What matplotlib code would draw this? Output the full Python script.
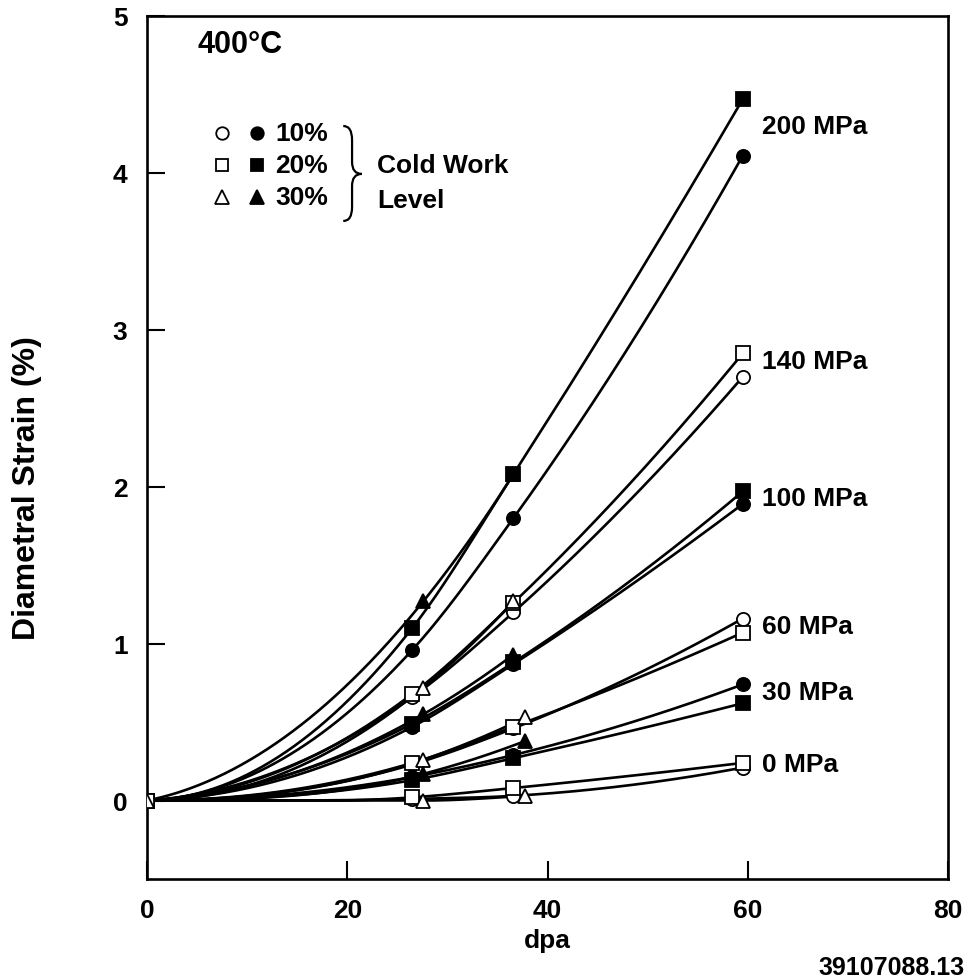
import numpy as np
import matplotlib
matplotlib.use("Agg")
import matplotlib.pyplot as plt
from matplotlib.path import Path
from matplotlib.patches import PathPatch

plt.rcParams['font.family'] = ['Liberation Sans', 'DejaVu Sans']
plt.rcParams['font.weight'] = 'bold'

# ---------------- data (dpa, diametral strain %) ----------------
x_cw10 = [0, 26.5, 36.6, 59.5]
x_cw20 = [0, 26.5, 36.6, 59.5]
x_cw30_hi = [0, 27.6, 36.6]      # 200/140/100 MPa, 30% CW
x_cw30_lo = [0, 27.6, 37.8]      # 60/30/0 MPa, 30% CW

y_200_cw10 = [0, 0.96, 1.80, 4.11]
y_200_cw20 = [0, 1.10, 2.08, 4.47]
y_200_cw30 = [0, 1.27, 2.08]

y_140_cw10 = [0, 0.66, 1.20, 2.70]
y_140_cw20 = [0, 0.68, 1.26, 2.85]
y_140_cw30 = [0, 0.72, 1.27]

y_100_cw10 = [0, 0.47, 0.87, 1.89]
y_100_cw20 = [0, 0.49, 0.88, 1.97]
y_100_cw30 = [0, 0.55, 0.93]

y_60_cw10 = [0, 0.23, 0.46, 1.16]
y_60_cw20 = [0, 0.24, 0.47, 1.07]
y_60_cw30 = [0, 0.26, 0.53]

y_30_cw10 = [0, 0.15, 0.29, 0.74]
y_30_cw20 = [0, 0.13, 0.27, 0.62]
y_30_cw30 = [0, 0.17, 0.38]

y_0_cw10 = [0, 0.01, 0.03, 0.21]
y_0_cw20 = [0, 0.02, 0.08, 0.24]
y_0_cw30 = [0, 0.00, 0.03]

stress_labels = ['200 MPa', '140 MPa', '100 MPa', '60 MPa', '30 MPa', '0 MPa']
stress_label_y = [4.30, 2.80, 1.93, 1.11, 0.69, 0.23]
cw_labels = ['10%', '20%', '30%']
xticks = [0, 20, 40, 60, 80]
yticks = [0, 1, 2, 3, 4, 5]


def smooth_curve(x, y, xs):
    """Hermite curve through the points (Bessel slopes, flat start)."""
    x = np.asarray(x, float); y = np.asarray(y, float)
    h = np.diff(x); d = np.diff(y) / h
    n = len(x)
    m = np.zeros(n)
    for k in range(1, n - 1):
        m[k] = (h[k] * d[k - 1] + h[k - 1] * d[k]) / (h[k - 1] + h[k])
        if d[k - 1] * d[k] <= 0:
            m[k] = 0.0
    if n > 2:
        s0 = ((2 * h[0] + h[1]) * d[0] - h[0] * d[1]) / (h[0] + h[1])
        m[0] = max(s0, 0.0)
        m[-1] = ((2 * h[-1] + h[-2]) * d[-1] - h[-1] * d[-2]) / (h[-1] + h[-2])
    else:
        m[:] = d[0]
    ys = np.empty_like(xs)
    for i, xv in enumerate(xs):
        k = min(max(np.searchsorted(x, xv) - 1, 0), n - 2)
        t = (xv - x[k]) / h[k]
        h00 = 2 * t**3 - 3 * t**2 + 1; h10 = t**3 - 2 * t**2 + t
        h01 = -2 * t**3 + 3 * t**2; h11 = t**3 - t**2
        ys[i] = h00 * y[k] + h10 * h[k] * m[k] + h01 * y[k + 1] + h11 * h[k] * m[k + 1]
    return np.maximum(ys, 0.0)


fig = plt.figure(figsize=(9.71, 9.79), dpi=100)
ax = fig.add_axes([147 / 971, 1 - 880 / 979, (948 - 147) / 971, (880 - 17) / 979])

series = [
    (x_cw10, y_200_cw10, 'o', True), (x_cw20, y_200_cw20, 's', True), (x_cw30_hi, y_200_cw30, '^', True),
    (x_cw10, y_140_cw10, 'o', False), (x_cw20, y_140_cw20, 's', False), (x_cw30_hi, y_140_cw30, '^', False),
    (x_cw10, y_100_cw10, 'o', True), (x_cw20, y_100_cw20, 's', True), (x_cw30_hi, y_100_cw30, '^', True),
    (x_cw10, y_60_cw10, 'o', False), (x_cw20, y_60_cw20, 's', False), (x_cw30_lo, y_60_cw30, '^', False),
    (x_cw10, y_30_cw10, 'o', True), (x_cw20, y_30_cw20, 's', True), (x_cw30_lo, y_30_cw30, '^', True),
    (x_cw10, y_0_cw10, 'o', False), (x_cw20, y_0_cw20, 's', False), (x_cw30_lo, y_0_cw30, '^', False),
]

for xs_, ys_, mk, filled in series:
    xx = np.linspace(xs_[0], xs_[-1], 300)
    ax.plot(xx, smooth_curve(xs_, ys_, xx), color='black', lw=1.9, zorder=2,
            solid_capstyle='round')
for xs_, ys_, mk, filled in series:
    ms = 10.5 if mk == '^' else 9.5
    ax.plot(xs_, ys_, linestyle='none', marker=mk, ms=ms, mec='black', mew=1.3,
            mfc='black' if filled else 'white', zorder=4)

for lab, yl in zip(stress_labels, stress_label_y):
    ax.text(61.4, yl, lab, fontsize=19, fontweight='bold', va='center', ha='left')

ax.text(0.063, 0.967, '400°C', transform=ax.transAxes, fontsize=22, fontweight='bold',
        va='center', ha='left')

# custom legend
leg_rows_y = [0.8645, 0.8274, 0.7903]
leg_marks = ['o', 's', '^']
for ry, mk, lab in zip(leg_rows_y, leg_marks, cw_labels):
    ms = 10.5 if mk == '^' else 9
    ax.plot([0.094], [ry], transform=ax.transAxes, marker=mk, ms=ms, mfc='white', mec='black',
            mew=1.3, linestyle='none', clip_on=False)
    ax.plot([0.137], [ry], transform=ax.transAxes, marker=mk, ms=ms, mfc='black', mec='black',
            mew=1.3, linestyle='none', clip_on=False)
    ax.text(0.160, ry, lab, transform=ax.transAxes, fontsize=19, fontweight='bold',
            va='center', ha='left')

x0, xm, xt = 0.245, 0.256, 0.268
ytop, ymid, ybot = 0.8725, 0.8170, 0.7625
verts = [(x0, ytop), (xm, ytop), (xm, ytop - 0.016),
         (xm, ymid + 0.014), (xm, ymid), (xt, ymid),
         (xm, ymid), (xm, ymid - 0.014),
         (xm, ybot + 0.016), (xm, ybot), (x0, ybot)]
codes = [Path.MOVETO, Path.CURVE3, Path.CURVE3,
         Path.LINETO, Path.CURVE3, Path.CURVE3,
         Path.CURVE3, Path.CURVE3,
         Path.LINETO, Path.CURVE3, Path.CURVE3]
ax.add_patch(PathPatch(Path(verts, codes), transform=ax.transAxes, fill=False, lw=1.6,
                       edgecolor='black'))
ax.text(0.287, 0.8274, 'Cold Work', transform=ax.transAxes, fontsize=19, fontweight='bold',
        va='center', ha='left')
ax.text(0.287, 0.7868, 'Level', transform=ax.transAxes, fontsize=19, fontweight='bold',
        va='center', ha='left')

ax.set_xlim(0, 80)
ax.set_ylim(-0.5, 5)
ax.set_xticks(xticks)
ax.set_yticks(yticks)
ax.set_xticklabels([str(t) for t in xticks], fontsize=19, fontweight='bold')
ax.set_yticklabels([str(t) for t in yticks], fontsize=19, fontweight='bold')
ax.tick_params(direction='in', length=13, width=1.5, pad=14, top=False, right=False)
for sp in ax.spines.values():
    sp.set_linewidth(1.9)

ax.set_xlabel('dpa', fontsize=19, fontweight='bold', labelpad=4)
fig.text(27 / 971, 1 - 488 / 979, 'Diametral Strain (%)', rotation=90, fontsize=23,
         fontweight='bold', ha='center', va='center')
fig.text(818 / 971, 1 - 956 / 979, '39107088.13', fontsize=18, fontweight='bold',
         ha='left', va='top')

fig.savefig('out.png', dpi=100)
